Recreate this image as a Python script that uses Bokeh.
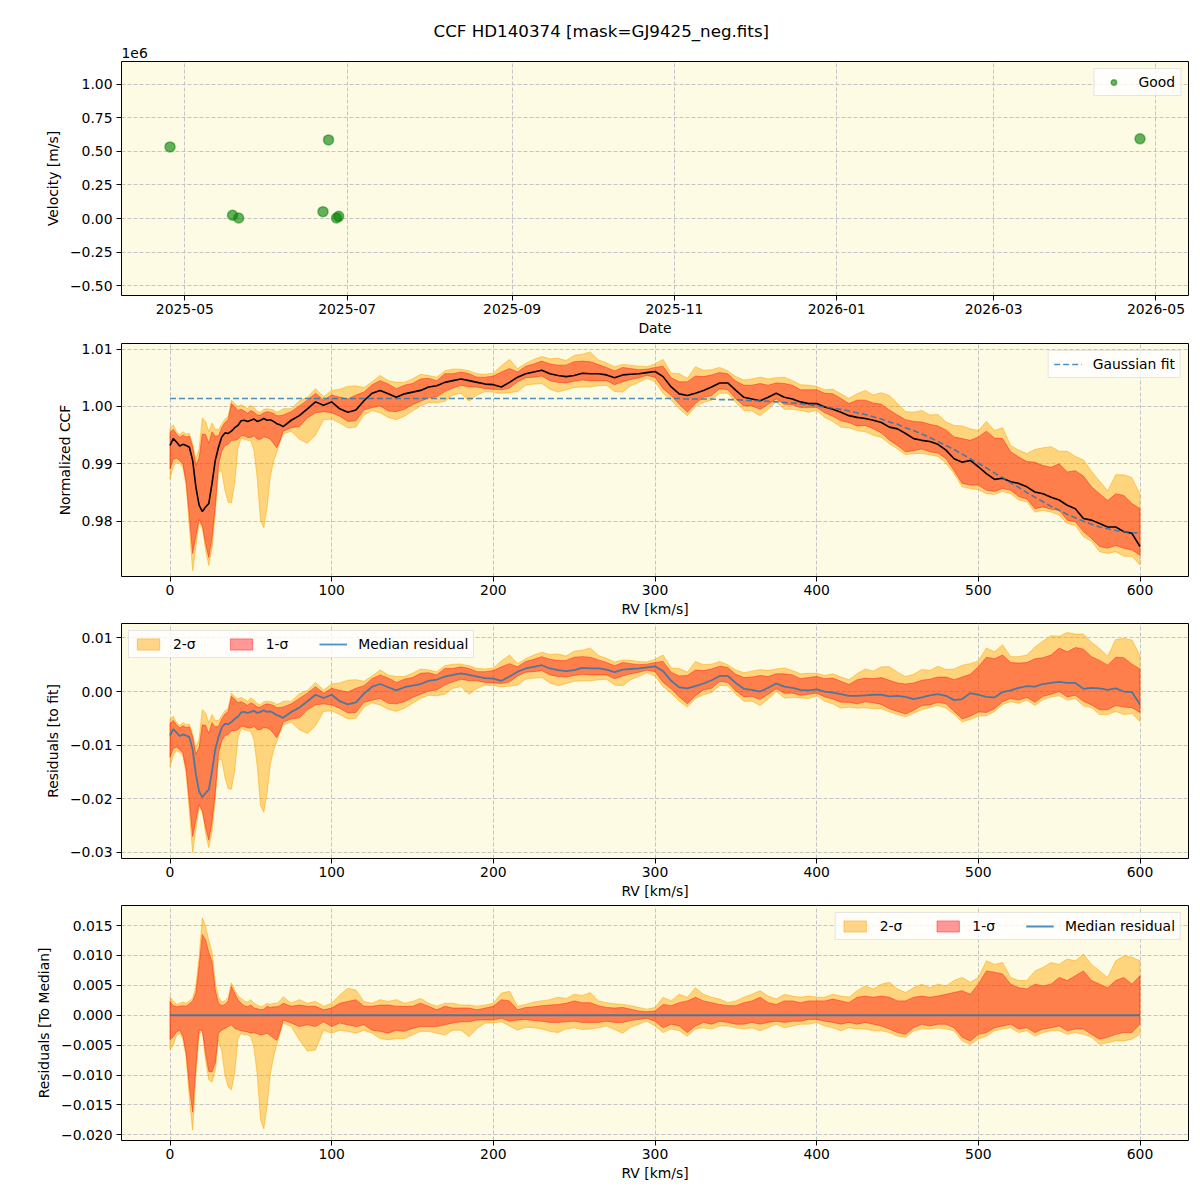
from datetime import datetime

import numpy as np
from bokeh.embed import file_html
from bokeh.layouts import column
from bokeh.models import (CustomJSTickFormatter, DatetimeTickFormatter, FixedTicker,
                          Legend, LegendItem, Range1d, Title)
from bokeh.plotting import figure
from bokeh.resources import INLINE

# ---------------------------------------------------------------- data
# Radial-velocity time series (m/s)
obs_dates = [datetime(2025, 4, 25, 10), datetime(2025, 5, 18, 22), datetime(2025, 5, 21, 5),
             datetime(2025, 6, 21, 22), datetime(2025, 6, 24, 0), datetime(2025, 6, 27, 0),
             datetime(2025, 6, 27, 20), datetime(2026, 4, 25, 0)]
obs_velocity = [533000, 25000, 5000, 52000, 585000, 5000, 17000, 593000]

# RV grid of the CCF (km/s): fine sampling over the dip, coarser afterwards
rv_kms = list(range(0, 72, 2)) + list(range(75, 605, 5))

# Median normalized CCF
ccf_median = [
    0.9932, 0.9944, 0.9938, 0.9931, 0.9934, 0.9932, 0.9929, 0.9906, 0.9860, 0.9828,
    0.9817, 0.9825, 0.9831, 0.9866, 0.9906, 0.9929, 0.9947, 0.9954, 0.9953, 0.9957,
    0.9963, 0.9967, 0.9975, 0.9976, 0.9974, 0.9976, 0.9978, 0.9974, 0.9976, 0.9979,
    0.9976, 0.9977, 0.9974, 0.9970, 0.9968, 0.9965,
    0.9976, 0.9984, 0.9996, 1.0008, 1.0002, 1.0008, 0.9996, 0.9990, 0.9994, 1.0010,
    1.0023, 1.0028, 1.0022, 1.0016, 1.0022, 1.0025, 1.0028, 1.0034, 1.0036, 1.0042,
    1.0045, 1.0048, 1.0045, 1.0042, 1.0039, 1.0038, 1.0034, 1.0042, 1.0051, 1.0057,
    1.0060, 1.0063, 1.0057, 1.0054, 1.0052, 1.0054, 1.0058, 1.0057, 1.0057, 1.0055,
    1.0050, 1.0055, 1.0056, 1.0057, 1.0059, 1.0061, 1.0052, 1.0034, 1.0022, 1.0019,
    1.0023, 1.0028, 1.0034, 1.0041, 1.0041, 1.0028, 1.0016, 1.0013, 1.0010, 1.0016,
    1.0023, 1.0016, 1.0013, 1.0008, 1.0005, 1.0005, 0.9999, 0.9995, 0.9990, 0.9984,
    0.9981, 0.9979, 0.9976, 0.9972, 0.9964, 0.9961, 0.9953, 0.9944, 0.9941, 0.9939,
    0.9934, 0.9924, 0.9909, 0.9903, 0.9906, 0.9895, 0.9883, 0.9873, 0.9875, 0.9869,
    0.9866, 0.9860, 0.9851, 0.9848, 0.9842, 0.9837, 0.9828, 0.9822, 0.9805, 0.9802,
    0.9796, 0.9790, 0.9790, 0.9782, 0.9779, 0.9756,
]

# Percentile envelopes, given relative to the median CCF
upper_2sigma = [
    0.0031, 0.0024, 0.0018, 0.0020, 0.0022, 0.0020, 0.0024, 0.0028, 0.0048, 0.0098,
    0.0163, 0.0149, 0.0125, 0.0105, 0.0054, 0.0031, 0.0022, 0.0024, 0.0030, 0.0054,
    0.0042, 0.0033, 0.0028, 0.0024, 0.0022, 0.0026, 0.0020, 0.0017, 0.0014, 0.0016,
    0.0020, 0.0018, 0.0020, 0.0020, 0.0024, 0.0031,
    0.0020, 0.0026, 0.0020, 0.0023, 0.0015, 0.0020, 0.0034, 0.0045, 0.0042, 0.0023,
    0.0020, 0.0026, 0.0023, 0.0026, 0.0020, 0.0023, 0.0028, 0.0020, 0.0015, 0.0020,
    0.0020, 0.0017, 0.0017, 0.0015, 0.0017, 0.0020, 0.0037, 0.0040, 0.0015, 0.0018,
    0.0022, 0.0024, 0.0026, 0.0030, 0.0028, 0.0035, 0.0033, 0.0038, 0.0024, 0.0021,
    0.0019, 0.0018, 0.0016, 0.0013, 0.0010, 0.0013, 0.0030, 0.0024, 0.0035, 0.0030,
    0.0046, 0.0035, 0.0030, 0.0027, 0.0021, 0.0024, 0.0030, 0.0035, 0.0041, 0.0032,
    0.0027, 0.0035, 0.0032, 0.0030, 0.0032, 0.0030, 0.0030, 0.0035, 0.0032, 0.0030,
    0.0041, 0.0049, 0.0044, 0.0052, 0.0055, 0.0044, 0.0038, 0.0046, 0.0052, 0.0046,
    0.0052, 0.0049, 0.0058, 0.0063, 0.0055, 0.0063, 0.0091, 0.0085, 0.0088, 0.0063,
    0.0058, 0.0058, 0.0074, 0.0080, 0.0088, 0.0085, 0.0094, 0.0091, 0.0102, 0.0085,
    0.0074, 0.0063, 0.0091, 0.0099, 0.0097, 0.0091,
]
upper_1sigma = [
    0.0023, 0.0016, 0.0014, 0.0015, 0.0016, 0.0015, 0.0019, 0.0024, 0.0037, 0.0082,
    0.0135, 0.0126, 0.0105, 0.0090, 0.0042, 0.0020, 0.0016, 0.0018, 0.0024, 0.0048,
    0.0037, 0.0026, 0.0020, 0.0016, 0.0014, 0.0017, 0.0012, 0.0011, 0.0009, 0.0010,
    0.0015, 0.0013, 0.0014, 0.0014, 0.0016, 0.0020,
    0.0015, 0.0017, 0.0015, 0.0015, 0.0009, 0.0012, 0.0020, 0.0023, 0.0026, 0.0015,
    0.0015, 0.0017, 0.0017, 0.0015, 0.0015, 0.0015, 0.0020, 0.0015, 0.0009, 0.0015,
    0.0012, 0.0012, 0.0012, 0.0009, 0.0012, 0.0015, 0.0026, 0.0024, 0.0009, 0.0013,
    0.0014, 0.0016, 0.0017, 0.0018, 0.0020, 0.0024, 0.0021, 0.0021, 0.0016, 0.0013,
    0.0012, 0.0013, 0.0010, 0.0007, 0.0006, 0.0007, 0.0018, 0.0016, 0.0021, 0.0024,
    0.0030, 0.0024, 0.0021, 0.0018, 0.0016, 0.0016, 0.0021, 0.0024, 0.0030, 0.0021,
    0.0018, 0.0024, 0.0024, 0.0021, 0.0024, 0.0024, 0.0024, 0.0027, 0.0024, 0.0021,
    0.0030, 0.0032, 0.0030, 0.0032, 0.0030, 0.0024, 0.0024, 0.0030, 0.0032, 0.0030,
    0.0032, 0.0035, 0.0038, 0.0041, 0.0035, 0.0052, 0.0074, 0.0072, 0.0069, 0.0052,
    0.0046, 0.0044, 0.0052, 0.0049, 0.0052, 0.0063, 0.0058, 0.0066, 0.0074, 0.0058,
    0.0052, 0.0046, 0.0058, 0.0063, 0.0052, 0.0066,
]
lower_1sigma = [
    -0.0041, -0.0036, -0.0028, -0.0025, -0.0035, -0.0064, -0.0120, -0.0162, -0.0086, -0.0025,
    -0.0025, -0.0064, -0.0094, -0.0095, -0.0080, -0.0030, -0.0025, -0.0022, -0.0019, -0.0016,
    -0.0022, -0.0024, -0.0026, -0.0027, -0.0028, -0.0030, -0.0029, -0.0031, -0.0033, -0.0032,
    -0.0030, -0.0034, -0.0038, -0.0042, -0.0028, -0.0008,
    -0.0013, -0.0019, -0.0016, -0.0019, -0.0011, -0.0019, -0.0013, -0.0016, -0.0019, -0.0016,
    -0.0025, -0.0027, -0.0030, -0.0025, -0.0027, -0.0022, -0.0019, -0.0019, -0.0019, -0.0016,
    -0.0013, -0.0011, -0.0011, -0.0008, -0.0008, -0.0008, -0.0005, -0.0010, -0.0008, -0.0007,
    -0.0009, -0.0010, -0.0012, -0.0012, -0.0011, -0.0010, -0.0012, -0.0012, -0.0012, -0.0010,
    -0.0012, -0.0012, -0.0009, -0.0007, -0.0005, -0.0010, -0.0021, -0.0015, -0.0018, -0.0029,
    -0.0018, -0.0012, -0.0015, -0.0010, -0.0012, -0.0015, -0.0015, -0.0012, -0.0015, -0.0012,
    -0.0010, -0.0012, -0.0010, -0.0010, -0.0007, -0.0007, -0.0010, -0.0012, -0.0015, -0.0012,
    -0.0015, -0.0012, -0.0015, -0.0018, -0.0023, -0.0029, -0.0032, -0.0021, -0.0015, -0.0018,
    -0.0015, -0.0015, -0.0021, -0.0037, -0.0043, -0.0032, -0.0029, -0.0021, -0.0018, -0.0015,
    -0.0023, -0.0021, -0.0029, -0.0023, -0.0021, -0.0018, -0.0026, -0.0023, -0.0023, -0.0032,
    -0.0040, -0.0037, -0.0032, -0.0029, -0.0029, -0.0015,
]
lower_2sigma = [
    -0.0058, -0.0050, -0.0034, -0.0030, -0.0040, -0.0070, -0.0140, -0.0192, -0.0103, -0.0030,
    -0.0027, -0.0075, -0.0108, -0.0112, -0.0092, -0.0041, -0.0060, -0.0100, -0.0120, -0.0125,
    -0.0097, -0.0040, -0.0030, -0.0033, -0.0033, -0.0036, -0.0055, -0.0100, -0.0175, -0.0190,
    -0.0153, -0.0100, -0.0070, -0.0050, -0.0030, -0.0013,
    -0.0019, -0.0041, -0.0060, -0.0058, -0.0025, -0.0030, -0.0025, -0.0027, -0.0030, -0.0025,
    -0.0030, -0.0039, -0.0041, -0.0039, -0.0039, -0.0033, -0.0027, -0.0027, -0.0030, -0.0033,
    -0.0025, -0.0025, -0.0036, -0.0022, -0.0013, -0.0013, -0.0011, -0.0018, -0.0025, -0.0020,
    -0.0021, -0.0023, -0.0027, -0.0029, -0.0023, -0.0021, -0.0024, -0.0023, -0.0021, -0.0018,
    -0.0024, -0.0030, -0.0020, -0.0015, -0.0010, -0.0018, -0.0029, -0.0023, -0.0026, -0.0035,
    -0.0023, -0.0021, -0.0023, -0.0018, -0.0018, -0.0021, -0.0023, -0.0021, -0.0026, -0.0021,
    -0.0015, -0.0021, -0.0018, -0.0015, -0.0015, -0.0012, -0.0018, -0.0021, -0.0026, -0.0021,
    -0.0023, -0.0023, -0.0026, -0.0026, -0.0029, -0.0035, -0.0037, -0.0026, -0.0023, -0.0023,
    -0.0021, -0.0023, -0.0026, -0.0043, -0.0049, -0.0040, -0.0035, -0.0026, -0.0023, -0.0021,
    -0.0029, -0.0026, -0.0035, -0.0029, -0.0026, -0.0026, -0.0032, -0.0029, -0.0032, -0.0037,
    -0.0049, -0.0046, -0.0043, -0.0043, -0.0040, -0.0032,
]

# Gaussian fit of the CCF: flat continuum below 300 km/s, then the wing
fit_continuum = 1.0014
fit_wing = [  # 300 ... 600 km/s, step 5
    1.0014, 1.0014, 1.0014, 1.0014, 1.0013, 1.0013, 1.0013, 1.0013, 1.0012, 1.0012,
    1.0012, 1.0011, 1.0010, 1.0010, 1.0009, 1.0008, 1.0007, 1.0006, 1.0005, 1.0003,
    1.0001, 0.9999, 0.9997, 0.9995, 0.9992, 0.9989, 0.9986, 0.9982, 0.9978, 0.9973,
    0.9969, 0.9963, 0.9958, 0.9952, 0.9946, 0.9939, 0.9932, 0.9925, 0.9917, 0.9909,
    0.9901, 0.9893, 0.9884, 0.9876, 0.9867, 0.9859, 0.9850, 0.9842, 0.9834, 0.9826,
    0.9819, 0.9812, 0.9806, 0.9800, 0.9795, 0.9790, 0.9787, 0.9784, 0.9782, 0.9780,
    0.9780,
]

rv = np.array(rv_kms, dtype=float)
n_cont = int(np.sum(rv < 300))
gauss_fit = np.array([fit_continuum] * n_cont + fit_wing)
med = np.array(ccf_median)
for arr in (upper_2sigma, upper_1sigma, lower_1sigma, lower_2sigma, ccf_median):
    assert len(arr) == len(rv_kms)
assert len(gauss_fit) == len(rv_kms)

# ---------------------------------------------------------------- style
FONT = "DejaVu Sans"
FS = "13.9px"
BG = "#fdfbe3"
C2 = "orange"
C1 = "red"
BLUE = "#1f77b4"
W = 1200
LEFT, RIGHT = 121, 12


def signed_fmt(decimals, scale=1.0):
    return CustomJSTickFormatter(args=dict(d=decimals, s=scale), code="""
        const v = tick / s;
        const t = Math.abs(v).toFixed(d);
        return (v < 0 && parseFloat(t) != 0 ? "\u2212" : "") + t;
    """)


def make_fig(height, top, bottom, x_range, y_range, x_type="linear"):
    p = figure(width=W, height=height, x_range=x_range, y_range=y_range,
               x_axis_type=x_type, output_backend="svg", toolbar_location=None,
               min_border_left=LEFT, min_border_right=RIGHT,
               min_border_top=top, min_border_bottom=bottom)
    p.background_fill_color = BG
    p.border_fill_color = "white"
    p.outline_line_color = "black"
    p.outline_line_width = 1
    for ax in (p.xaxis[0], p.yaxis[0]):
        ax.axis_label_text_font = FONT
        ax.axis_label_text_font_size = FS
        ax.axis_label_text_font_style = "normal"
        ax.axis_label_text_color = "black"
        ax.major_label_text_font = FONT
        ax.major_label_text_font_size = FS
        ax.major_label_text_color = "black"
        ax.major_tick_out = 5
        ax.major_tick_in = 0
        ax.minor_tick_out = 0
        ax.minor_tick_in = 0
        ax.axis_line_color = None
        ax.major_tick_line_color = "black"
    p.xaxis[0].major_label_standoff = 3
    p.xaxis[0].axis_label_standoff = 3
    p.yaxis[0].major_label_standoff = 4
    p.yaxis[0].axis_label_standoff = 6
    for g in (p.xgrid[0], p.ygrid[0]):
        g.grid_line_color = "#c4c4c8"
        g.grid_line_alpha = 1.0
        g.grid_line_dash = "4 2"
        g.grid_line_width = 1
    return p


def set_ticks(p, xticks, yticks):
    if xticks is not None:
        xt = FixedTicker(ticks=xticks)
        p.xaxis[0].ticker = xt
        p.xgrid[0].ticker = xt
    yt = FixedTicker(ticks=yticks)
    p.yaxis[0].ticker = yt
    p.ygrid[0].ticker = yt


def make_legend(items, location, orientation="vertical"):
    return Legend(items=items, location=location, orientation=orientation,
                  margin=7, padding=5, spacing=31, glyph_width=28, glyph_height=14,
                  label_height=14, label_standoff=11,
                  label_text_font=FONT, label_text_font_size=FS, label_text_color="black",
                  border_line_color="#cccccc", border_line_width=1,
                  background_fill_color="white", background_fill_alpha=0.8)


def band_patch(p, lo, hi, color, fill_alpha, line_alpha):
    xs = list(rv) + list(rv[::-1])
    ys = list(lo) + list(np.asarray(hi)[::-1])
    return p.patch(xs, ys, fill_color=color, fill_alpha=fill_alpha,
                   line_color=color, line_alpha=line_alpha, line_width=1)


def epoch_ms(d):
    return (d - datetime(1970, 1, 1)).total_seconds() * 1000.0


RV_RANGE = (-30, 630)
RV_TICKS = [0, 100, 200, 300, 400, 500, 600]

# ---------------------------------------------------------------- panel 1: RV time series
span = obs_dates[-1] - obs_dates[0]
p1 = make_fig(338, 61, 43,
              Range1d(obs_dates[0] - span * 0.05, obs_dates[-1] + span * 0.05),
              Range1d(-571000, 1167500), x_type="datetime")
month_ticks = [epoch_ms(datetime(y, m, 1)) for y, m in
               [(2025, 5), (2025, 7), (2025, 9), (2025, 11), (2026, 1), (2026, 3), (2026, 5)]]
set_ticks(p1, month_ticks, [-500000, -250000, 0, 250000, 500000, 750000, 1000000])
p1.xaxis[0].formatter = DatetimeTickFormatter(days="%Y-%m", months="%Y-%m", years="%Y-%m")
p1.yaxis[0].formatter = signed_fmt(2, 1e6)
p1.xaxis[0].axis_label = "Date"
p1.yaxis[0].axis_label = "Velocity [m/s]"
good = p1.scatter(obs_dates, obs_velocity, size=10, fill_color="green", fill_alpha=0.6,
                  line_color="green", line_alpha=0.5, line_width=1.5)
p1.add_layout(make_legend([LegendItem(label="Good", renderers=[good])], "top_right"))
# scale factor of the velocity axis, then the figure title above it
p1.add_layout(Title(text="1e6", align="left", offset=0, standoff=8,
                    text_font=FONT, text_font_size=FS, text_font_style="normal",
                    text_color="black"), "above")
p1.add_layout(Title(text="CCF HD140374 [mask=GJ9425_neg.fits]", align="left", offset=312,
                    standoff=2, text_font=FONT, text_font_size="16.7px",
                    text_font_style="normal", text_color="black"), "above")

# ---------------------------------------------------------------- panel 2: normalized CCF
p2 = make_fig(281, 5, 42, Range1d(*RV_RANGE), Range1d(0.97038, 1.01097))
set_ticks(p2, RV_TICKS, [0.98, 0.99, 1.00, 1.01])
p2.yaxis[0].formatter = signed_fmt(2)
p2.xaxis[0].axis_label = "RV [km/s]"
p2.yaxis[0].axis_label = "Normalized CCF"
band_patch(p2, med + np.array(lower_2sigma), med + np.array(upper_2sigma), C2, 0.45, 0.5)
band_patch(p2, med + np.array(lower_1sigma), med + np.array(upper_1sigma), C1, 0.4, 0.4)
p2.line(rv, med, line_color="black", line_width=1.6)
fit_r = p2.line(rv, gauss_fit, line_color=BLUE, line_alpha=0.8, line_width=1.6, line_dash="6 3")
p2.add_layout(make_legend([LegendItem(label="Gaussian fit", renderers=[fit_r])], "top_right"))

# ---------------------------------------------------------------- panel 3: residuals to the fit
resid = med - gauss_fit
p3 = make_fig(282, 4, 43, Range1d(*RV_RANGE), Range1d(-0.03112, 0.01268))
set_ticks(p3, RV_TICKS, [-0.03, -0.02, -0.01, 0.0, 0.01])
p3.yaxis[0].formatter = signed_fmt(2)
p3.xaxis[0].axis_label = "RV [km/s]"
p3.yaxis[0].axis_label = "Residuals [to fit]"
b2 = band_patch(p3, resid + np.array(lower_2sigma), resid + np.array(upper_2sigma), C2, 0.45, 0.5)
b1 = band_patch(p3, resid + np.array(lower_1sigma), resid + np.array(upper_1sigma), C1, 0.4, 0.4)
m3 = p3.line(rv, resid, line_color=BLUE, line_alpha=0.8, line_width=1.8)
p3.add_layout(make_legend([LegendItem(label="2-σ", renderers=[b2]),
                           LegendItem(label="1-σ", renderers=[b1]),
                           LegendItem(label="Median residual", renderers=[m3])],
                          "top_left", "horizontal"))

# ---------------------------------------------------------------- panel 4: residuals to the median
p4 = make_fig(299, 4, 60, Range1d(*RV_RANGE), Range1d(-0.02095, 0.01835))
set_ticks(p4, RV_TICKS, [-0.020, -0.015, -0.010, -0.005, 0.0, 0.005, 0.010, 0.015])
p4.yaxis[0].formatter = signed_fmt(3)
p4.xaxis[0].axis_label = "RV [km/s]"
p4.yaxis[0].axis_label = "Residuals [To Median]"
c2 = band_patch(p4, np.array(lower_2sigma), np.array(upper_2sigma), C2, 0.45, 0.5)
c1 = band_patch(p4, np.array(lower_1sigma), np.array(upper_1sigma), C1, 0.4, 0.4)
m4 = p4.line(rv, med - med, line_color=BLUE, line_alpha=0.8, line_width=1.8)
p4.add_layout(make_legend([LegendItem(label="2-σ", renderers=[c2]),
                           LegendItem(label="1-σ", renderers=[c1]),
                           LegendItem(label="Median residual", renderers=[m4])],
                          "top_right", "horizontal"))

layout = column(p1, p2, p3, p4, spacing=0)
open("out.html", "w").write(file_html(layout, INLINE))
